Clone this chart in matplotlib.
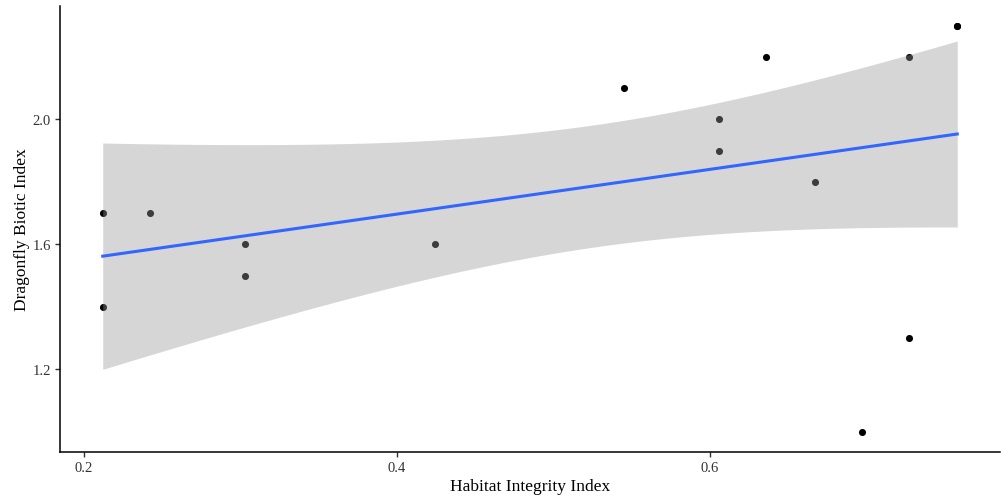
import numpy as np
import matplotlib.pyplot as plt

# Habitat integrity vs dragonfly biotic index, one value per site
habitat = [0.212, 0.212, 0.242, 0.303, 0.303, 0.424, 0.545, 0.606, 0.606,
           0.636, 0.667, 0.697, 0.727, 0.727, 0.758, 0.758]
biotic = [1.7, 1.4, 1.7, 1.6, 1.5, 1.6, 2.1, 2.0, 1.9,
          2.2, 1.8, 1.0, 2.2, 1.3, 2.3, 2.3]
x_ticks = [0.2, 0.4, 0.6]
y_ticks = [1.2, 1.6, 2.0]

x = np.array(habitat)
y = np.array(biotic)

# ordinary least squares fit with a 95% confidence band
n = len(x)
slope, intercept = np.polyfit(x, y, 1)
resid = y - (intercept + slope * x)
s = np.sqrt(np.sum(resid ** 2) / (n - 2))
t_crit = 2.145  # t(0.975, df=14)
xs = np.linspace(x.min(), x.max(), 80)
fit = intercept + slope * xs
se = s * np.sqrt(1 / n + (xs - x.mean()) ** 2 / np.sum((x - x.mean()) ** 2))

plt.rcParams['font.family'] = ['Liberation Serif', 'DejaVu Serif']

fig = plt.figure(figsize=(10.01, 5.02), dpi=100)
ax = fig.add_axes([60 / 1001, 49 / 502, 940 / 1001, 446.5 / 502])

ax.scatter(x, y, s=26, color='black', linewidths=0, zorder=2)
ax.fill_between(xs, fit - t_crit * se, fit + t_crit * se,
                color='#999999', alpha=0.4, linewidth=0, zorder=3)
ax.plot(xs, fit, color='#3366FF', linewidth=2.2, zorder=4)

xpad = (x.max() - x.min()) * 0.05
ypad = (y.max() - y.min()) * 0.05
ax.set_xlim(x.min() - xpad, x.max() + xpad)
ax.set_ylim(y.min() - ypad, y.max() + ypad)

ax.set_xticks(x_ticks)
ax.set_yticks(y_ticks)
ax.set_xticklabels([f'{v:.1f}' for v in x_ticks])
ax.set_yticklabels([f'{v:.1f}' for v in y_ticks])
ax.tick_params(length=3.5, width=1, color='#333333', labelcolor='#333333',
               labelsize=10.5, pad=3)

for side in ['top', 'right']:
    ax.spines[side].set_visible(False)
for side in ['left', 'bottom']:
    ax.spines[side].set_linewidth(1.1)
    ax.spines[side].set_color('black')

ax.set_xlabel('Habitat Integrity Index', fontsize=12.5, labelpad=3)
ax.set_ylabel('Dragonfly Biotic Index', fontsize=12.5, labelpad=2)

fig.savefig('out.png', dpi=100, facecolor='white')
